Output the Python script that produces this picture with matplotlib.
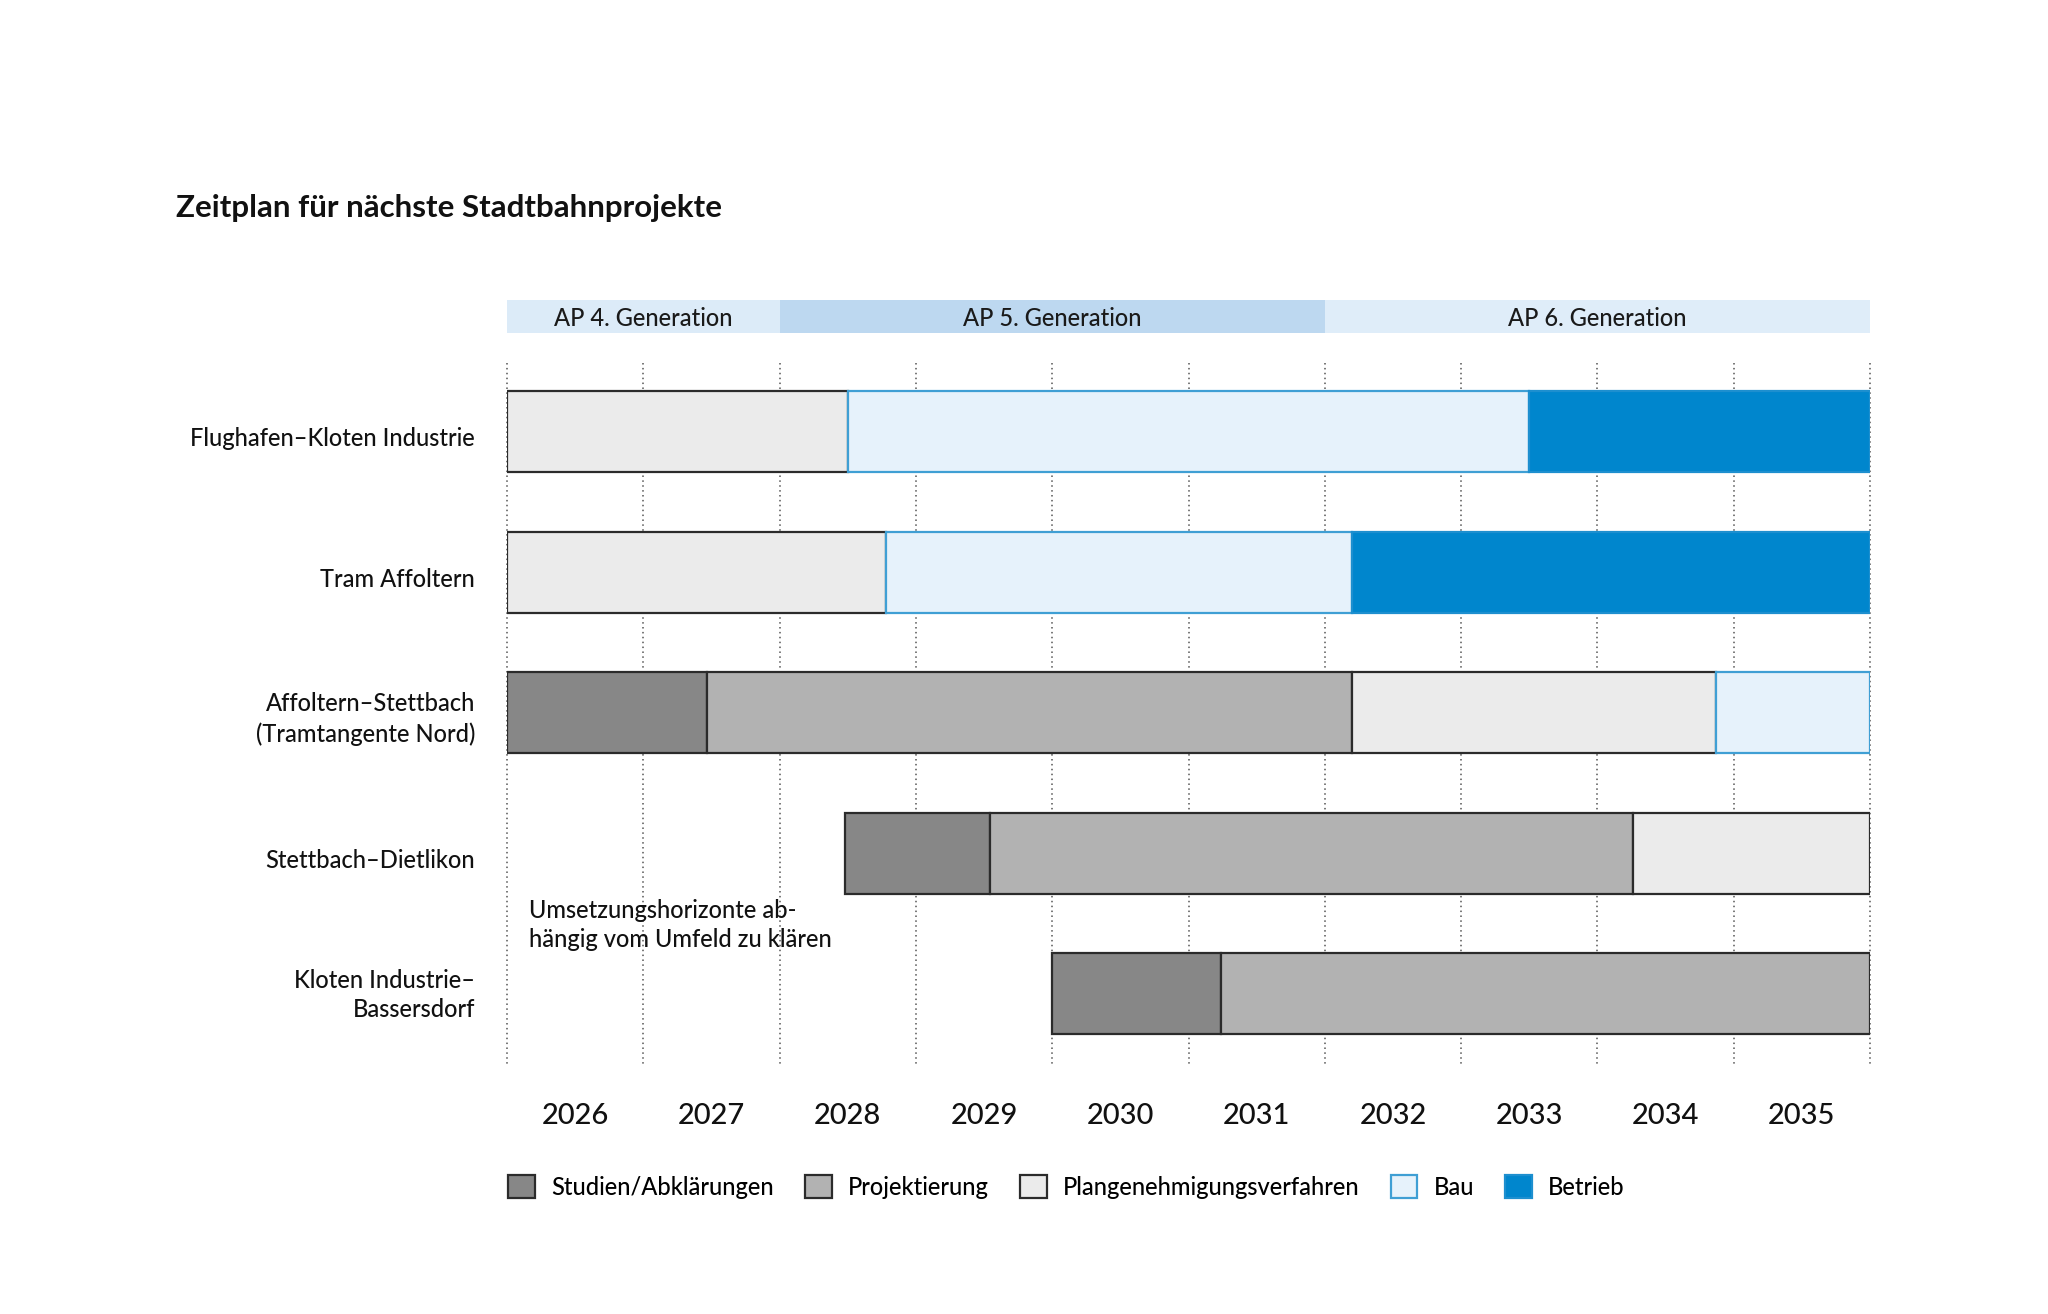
import matplotlib
matplotlib.use("Agg")
import matplotlib.pyplot as plt
import matplotlib.transforms as mtrans
from matplotlib.patches import Patch

plt.rcParams['font.family'] = ['Lato', 'DejaVu Sans']

# daten
projekte = ["Flughafen–Kloten Industrie", "Tram Affoltern",
            "Affoltern–Stettbach\n(Tramtangente Nord)", "Stettbach–Dietlikon",
            "Kloten Industrie–\nBassersdorf"]
phasen = ["Studien/Abklärungen", "Projektierung", "Plangenehmigungsverfahren", "Bau", "Betrieb"]
jahre = list(range(2026, 2036))
x_ende = 2036

# beginn jeder phase pro projekt (None = phase kommt nicht vor), ende = nächste phase bzw. 2036
start_studien = [None, None, 2026.0, 2028.48, 2030.0]
start_projekt = [None, None, 2027.47, 2029.54, 2031.24]
start_pgv = [2026.0, 2026.0, 2032.2, 2034.26, None]
start_bau = [2028.5, 2028.78, 2034.87, None, None]
start_betrieb = [2033.5, 2032.2, None, None, None]

ap_namen = ["AP 4. Generation", "AP 5. Generation", "AP 6. Generation"]
ap_start = [2026, 2028, 2032]
ap_ende = [2028, 2032, 2036]

fuell = ["#878787", "#b2b2b2", "#ebebeb", "#e6f2fb", "#0086cd"]
rand = ["#2b2b2b", "#2b2b2b", "#2b2b2b", "#3f9fd4", "#1d8fcf"]
ap_farben = ["#dcebf8", "#bdd8f0", "#dfedf9"]

fs = 17
gew = "medium"

fig = plt.figure(figsize=(20.48, 13.14), dpi=100)
ax = fig.add_axes([507 / 2048, 1 - 1064 / 1314, (1870 - 507) / 2048, (1064 - 300) / 1314])

# gitterlinien
ax.vlines(jahre + [x_ende], -0.488, 4.5, colors="#555555", linestyles=(0, (1, 2.2)),
          linewidth=1.1, zorder=0, clip_on=False)

# balken
starts = [start_studien, start_projekt, start_pgv, start_bau, start_betrieb]
for i in range(len(projekte)):
    for p in range(len(phasen)):
        s = starts[p][i]
        if s is None:
            continue
        e = x_ende
        for q in range(p + 1, len(phasen)):
            if starts[q][i] is not None:
                e = starts[q][i]
                break
        ax.barh(i, e - s, left=s, height=0.577, color=fuell[p], edgecolor=rand[p],
                linewidth=1.6, zorder=2)

# AP band
for name, a, b, c in zip(ap_namen, ap_start, ap_ende, ap_farben):
    ax.barh(-0.818, b - a, left=a, height=0.235, color=c, linewidth=0, zorder=1)
    ax.text((a + b) / 2, -0.808, name, ha="center", va="center", fontsize=fs,
            fontweight=gew, color="#1a1a1a")

# jahreszahlen
for j in jahre:
    ax.text(j + 0.5, 4.87, str(j), ha="center", va="center", fontsize=21,
            fontweight=gew, color="#111111")

ax.text(2026.16, 3.51, "Umsetzungshorizonte ab-\nhängig vom Umfeld zu klären",
        ha="left", va="center", fontsize=fs, fontweight=gew, linespacing=1.3, color="#111111")

ax.set_xlim(2026, x_ende)
ax.set_ylim(4.5, -0.937)
ax.set_yticks(range(len(projekte)), projekte, fontsize=fs, fontweight=gew, color="#111111")
ax.tick_params(axis="y", length=0, pad=23)
verschiebung = [-5, -5, -1, -5, 4]  # pixel, feinausrichtung der beschriftungen
for lab, d in zip(ax.get_yticklabels(), verschiebung):
    lab.set_linespacing(1.35)
    lab.set_transform(lab.get_transform() + mtrans.ScaledTranslation(0, d / 100, fig.dpi_scale_trans))
ax.set_xticks([])
for s in ax.spines.values():
    s.set_visible(False)

fig.text(176 / 2048, 1 - 208 / 1314, "Zeitplan für nächste Stadtbahnprojekte",
         fontsize=22.5, fontweight="bold", ha="left", va="center", color="#111111")

handles = [Patch(facecolor=f, edgecolor=r, linewidth=1.6, label=l)
           for f, r, l in zip(fuell, rand, phasen)]
leg = fig.legend(handles=handles, loc="center left", bbox_to_anchor=(508 / 2048, 1 - 1187 / 1314),
                 ncol=5, frameon=False, prop={"size": fs, "weight": gew},
                 handlelength=1.14, handleheight=1.14,
                 handletextpad=0.68, columnspacing=1.32, borderpad=0, borderaxespad=0)

fig.savefig("out.png", dpi=100, facecolor="white")
